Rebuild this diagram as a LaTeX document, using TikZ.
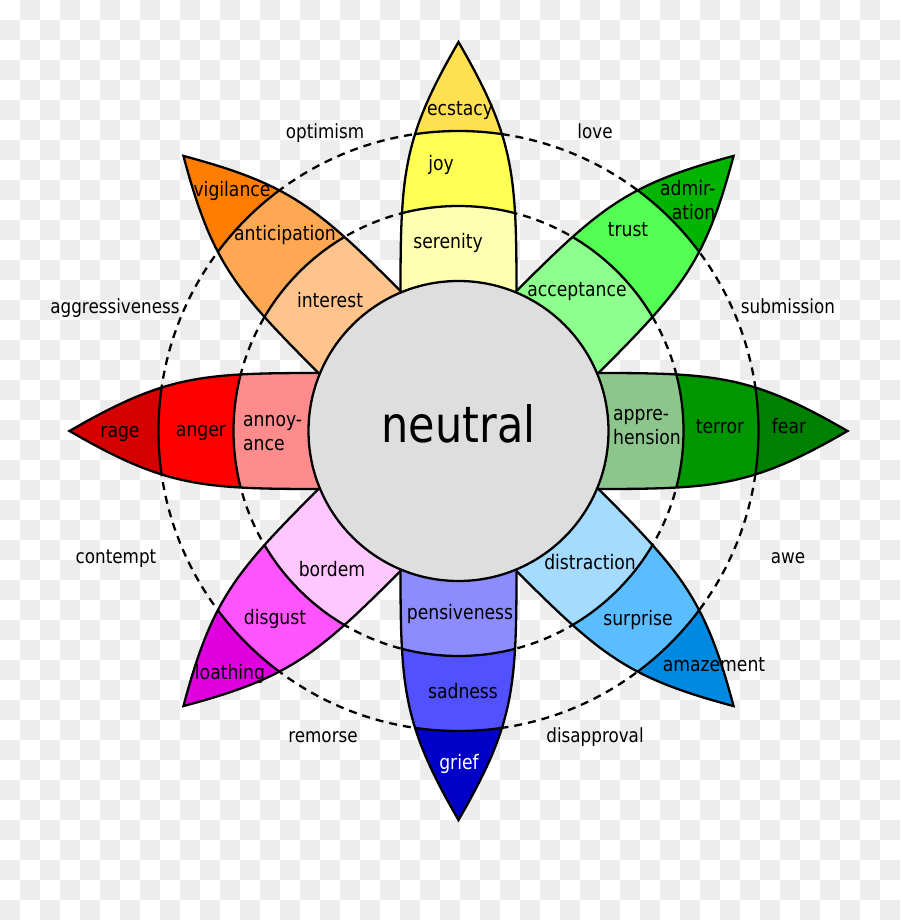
\documentclass[tikz,border=0pt]{standalone}
\usepackage{fontspec}
\setmainfont{DejaVu Sans}[FakeStretch=0.86]
\definecolor{checkgrey}{RGB}{237,237,237}
\definecolor{neutralgrey}{RGB}{222,222,222}
\definecolor{ecstacycol}{RGB}{255,224,80}
\definecolor{joycol}{RGB}{255,255,84}
\definecolor{serenitycol}{RGB}{255,255,177}
\definecolor{admirationcol}{RGB}{0,180,0}
\definecolor{trustcol}{RGB}{84,255,84}
\definecolor{acceptancecol}{RGB}{140,255,140}
\definecolor{fearcol}{RGB}{0,128,0}
\definecolor{terrorcol}{RGB}{0,150,0}
\definecolor{apprehensioncol}{RGB}{140,198,140}
\definecolor{amazementcol}{RGB}{0,137,224}
\definecolor{surprisecol}{RGB}{89,189,255}
\definecolor{distractioncol}{RGB}{165,219,255}
\definecolor{griefcol}{RGB}{0,0,200}
\definecolor{sadnesscol}{RGB}{81,81,255}
\definecolor{pensivenesscol}{RGB}{140,140,255}
\definecolor{loathingcol}{RGB}{222,0,222}
\definecolor{disgustcol}{RGB}{255,84,255}
\definecolor{bordemcol}{RGB}{255,198,255}
\definecolor{ragecol}{RGB}{212,0,0}
\definecolor{angercol}{RGB}{255,0,0}
\definecolor{annoyancecol}{RGB}{255,140,140}
\definecolor{vigilancecol}{RGB}{255,125,0}
\definecolor{anticipationcol}{RGB}{255,168,84}
\definecolor{interestcol}{RGB}{255,196,140}
\usepackage{tikz}

\begin{document}
\begin{tikzpicture}[x=1pt, y=1pt,
  petal/.style={insert path={(-58,100) -- (-58,139) .. controls (-58,259) and (-55,294) .. (0,389)
      .. controls (55,294) and (58,259) .. (58,139) -- (58,100) -- cycle}},
  petalline/.style={draw=black, line width=2.3pt},
  bandline/.style={draw=black, line width=2.3pt},
  guide/.style={draw=black, line width=2.3pt, dash pattern=on 8pt off 6pt},
  hub/.style={circle, draw=black, line width=2.3pt, fill=neutralgrey,
    minimum size=300pt, inner sep=0pt},
  emo/.style={font=\fontsize{20}{24}\selectfont, inner sep=0pt,
    text height=0.75em, text depth=0.2em, yshift=-4.5pt},
  mood/.style={font=\fontsize{19.5}{23}\selectfont, inner sep=0pt,
    text height=0.75em, text depth=0.2em, yshift=-4.5pt}]

\useasboundingbox (-458.5,-489) rectangle (441.5,431);

% Checker background
\foreach \i in {1,3,...,43}
  \foreach \j in {0,2,...,44}
    \fill[checkgrey] (20*\i-458.5, 431-20*\j) rectangle ++(20,-20);
\foreach \i in {0,2,...,44}
  \foreach \j in {1,3,...,45}
    \fill[checkgrey] (20*\i-458.5, 431-20*\j) rectangle ++(20,-20);

% Dashed rings
\draw[guide] (0,0) circle (300);
\draw[guide] (0,0) circle (225);

% Petals
\foreach \ang/\ca/\cb/\cc in {
    90/ecstacycol/joycol/serenitycol,
    45/admirationcol/trustcol/acceptancecol,
    0/fearcol/terrorcol/apprehensioncol,
    -45/amazementcol/surprisecol/distractioncol,
    -90/griefcol/sadnesscol/pensivenesscol,
    -135/loathingcol/disgustcol/bordemcol,
    180/ragecol/angercol/annoyancecol,
    135/vigilancecol/anticipationcol/interestcol}
{
  \begin{scope}[rotate=\ang-90]
    \begin{scope}
      \clip[petal];
      \fill[\ca, petal];
      \fill[\cb] (0,0) circle (300);
      \fill[\cc] (0,0) circle (225);
      \draw[bandline] (0,0) circle (300) (0,0) circle (225);
    \end{scope}
    \draw[petalline, petal];
  \end{scope}
}

% Centre
\node[hub] (hub) at (0,0) {};
\node[font=\fontsize{50}{56}\selectfont, inner sep=0pt] (neutral) at (0,7) {neutral};

% Petal labels
\node[emo] (ecstacy) at (1.5,323) {ecstacy};
\node[emo] (joy) at (-17.5,268) {joy};
\node[emo] (serenity) at (-10.5,190) {serenity};
\node[emo, align=right, anchor=east] (admiration) at (257,219) {admir-\\ation};
\node[emo] (trust) at (169.5,202) {trust};
\node[emo] (acceptance) at (118.5,142) {acceptance};
\node[emo, align=left, anchor=west] (apprehension) at (154.5,-6) {appre-\\hension};
\node[emo] (terror) at (261.5,5) {terror};
\node[emo] (fear) at (330.5,5) {fear};
\node[emo] (distraction) at (131.5,-131) {distraction};
\node[emo] (surprise) at (179.5,-187) {surprise};
\node[emo] (amazement) at (255.5,-233) {amazement};
\node[emo] (pensiveness) at (1.5,-181) {pensiveness};
\node[emo] (sadness) at (4.5,-260) {sadness};
\node[emo, text=white] (grief) at (0.5,-331) {grief};
\node[emo] (bordem) at (-126.5,-138) {bordem};
\node[emo] (disgust) at (-183.5,-186) {disgust};
\node[emo] (loathing) at (-228.5,-241) {loathing};
\node[emo] (rage) at (-338.5,1) {rage};
\node[emo] (anger) at (-257.5,2) {anger};
\node[emo, align=left, anchor=west] (annoyance) at (-215.5,-12.5) {annoy-\\ance};
\node[emo] (vigilance) at (-226.5,242) {vigilance};
\node[emo] (anticipation) at (-173.5,198) {anticipation};
\node[emo] (interest) at (-128.5,131) {interest};

% Dyad labels
\node[mood] (optimism) at (-133.5,300) {optimism};
\node[mood] (love) at (136.5,300) {love};
\node[mood] (aggressiveness) at (-343.5,125) {aggressiveness};
\node[mood] (submission) at (329.5,125) {submission};
\node[mood] (contempt) at (-342.5,-125) {contempt};
\node[mood] (awe) at (329.5,-125) {awe};
\node[mood] (remorse) at (-135.5,-304) {remorse};
\node[mood] (disapproval) at (136.5,-304) {disapproval};

\end{tikzpicture}
\end{document}
